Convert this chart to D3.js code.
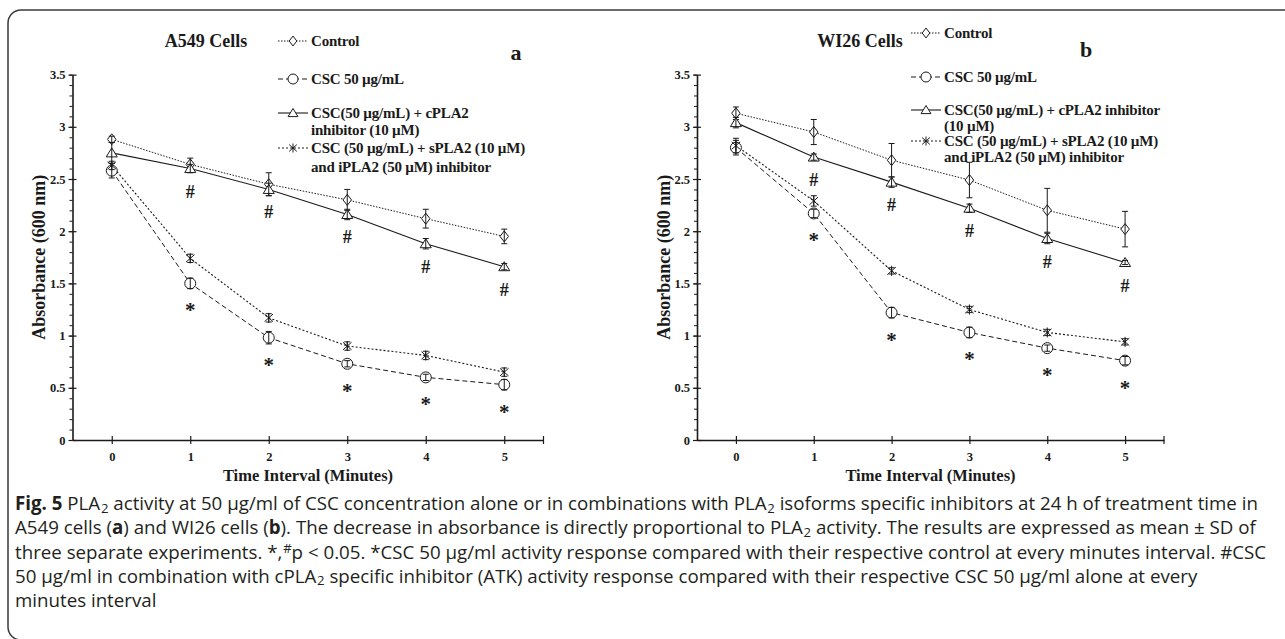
<!DOCTYPE html>
<html>
<head>
<meta charset="utf-8">
<script src="https://cdn.jsdelivr.net/npm/d3@7"></script>
<style>
  body { margin: 0; background: #fff; }
  svg { display: block; }
</style>
</head>
<body>
<svg id="figure" width="1285" height="639"></svg>
<script>
/* Data */

const timePoints = [0, 1, 2, 3, 4, 5];
const xTickLabels = ["0", "1", "2", "3", "4", "5"];
const yMajorTicks = [0, 0.5, 1, 1.5, 2, 2.5, 3, 3.5];
const yTickLabels = ["0", "0.5", "1", "1.5", "2", "2.5", "3", "3.5"];

// A549 cells (panel a): mean absorbance (600 nm) and SD per minute
const a549Control = [2.88, 2.64, 2.45, 2.30, 2.12, 1.95];
const a549ControlSd = [0.03, 0.06, 0.11, 0.10, 0.09, 0.07];
const a549Csc = [2.58, 1.50, 0.98, 0.73, 0.60, 0.53];
const a549CscSd = [0.07, 0.05, 0.06, 0.03, 0.03, 0.05];
const a549Cpla2 = [2.75, 2.60, 2.40, 2.16, 1.88, 1.66];
const a549Cpla2Sd = [0.10, 0.04, 0.06, 0.05, 0.05, 0.03];
const a549SiPla2 = [2.63, 1.74, 1.17, 0.90, 0.81, 0.65];
const a549SiPla2Sd = [0.04, 0.04, 0.04, 0.04, 0.04, 0.04];

// WI26 cells (panel b)
const wi26Control = [3.13, 2.95, 2.68, 2.49, 2.20, 2.02];
const wi26ControlSd = [0.06, 0.12, 0.16, 0.17, 0.21, 0.17];
const wi26Csc = [2.80, 2.17, 1.22, 1.03, 0.88, 0.76];
const wi26CscSd = [0.07, 0.04, 0.05, 0.05, 0.03, 0.04];
const wi26Cpla2 = [3.04, 2.71, 2.47, 2.22, 1.93, 1.70];
const wi26Cpla2Sd = [0.05, 0.03, 0.05, 0.04, 0.05, 0.02];
const wi26SiPla2 = [2.82, 2.29, 1.62, 1.25, 1.03, 0.94];
const wi26SiPla2Sd = [0.07, 0.05, 0.03, 0.03, 0.03, 0.03];

// Minutes marked significant: # under the cPLA2 series, * under CSC 50
const hashMinutes = [1, 2, 3, 4, 5];
const starMinutes = [1, 2, 3, 4, 5];

const a549Legend = [
  ["Control"],
  ["CSC 50 µg/mL"],
  ["CSC(50 µg/mL) + cPLA2", "inhibitor (10 µM)"],
  ["CSC (50 µg/mL) + sPLA2 (10 µM)", "and iPLA2 (50 µM) inhibitor"]
];
const wi26Legend = [
  ["Control"],
  ["CSC 50 µg/mL"],
  ["CSC(50 µg/mL) + cPLA2 inhibitor", "(10 µM)"],
  ["CSC (50 µg/mL) + sPLA2 (10 µM)", "and iPLA2 (50 µM) inhibitor"]
];

const captionLines = [
  [["Fig. 5", "b"], [" PLA"], ["2", "sub"], [" activity at 50 µg/ml of CSC concentration alone or in combinations with PLA"], ["2", "sub"], [" isoforms specific inhibitors at 24 h of treatment time in"]],
  [["A549 cells ("], ["a", "b"], [") and WI26 cells ("], ["b", "b"], ["). The decrease in absorbance is directly proportional to PLA"], ["2", "sub"], [" activity. The results are expressed as mean ± SD of"]],
  [["three separate experiments. *,"], ["#", "sup"], ["p < 0.05. *CSC 50 µg/ml activity response compared with their respective control at every minutes interval. #CSC"]],
  [["50 µg/ml in combination with cPLA"], ["2", "sub"], [" specific inhibitor (ATK) activity response compared with their respective CSC 50 µg/ml alone at every"]],
  [["minutes interval"]]
];

/* Styles and layout */

// control, CSC 50, CSC + cPLA2 inhibitor, CSC + sPLA2/iPLA2 inhibitor
const seriesStyles = [
  { marker: "diamond", dash: "1.5,1.5", width: 1 },
  { marker: "circle", dash: "5,3", width: 1 },
  { marker: "triangle", dash: null, width: 1.1 },
  { marker: "asterisk", dash: "2,2", width: 1.1 }
];

const panels = [
  {
    title: "A549 Cells",
    letter: "a",
    legend: a549Legend,
    means: [a549Control, a549Csc, a549Cpla2, a549SiPla2],
    sds: [a549ControlSd, a549CscSd, a549Cpla2Sd, a549SiPla2Sd],
    layout: {
      left: 72.5, right: 543.5, titleX: 206, legendX: 278,
      legendRows: [[41], [79], [113, 130], [148, 167]],
      letterX: 516, letterY: 60, yTitleX: 45
    }
  },
  {
    title: "WI26 Cells",
    letter: "b",
    legend: wi26Legend,
    means: [wi26Control, wi26Csc, wi26Cpla2, wi26SiPla2],
    sds: [wi26ControlSd, wi26CscSd, wi26Cpla2Sd, wi26SiPla2Sd],
    layout: {
      left: 697, right: 1164, titleX: 860, legendX: 911,
      legendRows: [[33], [77], [110, 126], [141, 157]],
      letterX: 1086, letterY: 57, yTitleX: 669.5
    }
  }
];

const plotTop = 74.6;
const plotBottom = 440;
const serif = "'Liberation Serif', 'Times New Roman', serif";
const ink = "#1a1a1a";

const svg = d3.select("#figure");

// Rounded frame around the whole figure (right side runs off the page)
svg.append("rect")
  .attr("x", 8).attr("y", 10)
  .attr("width", 1300).attr("height", 630)
  .attr("rx", 13)
  .attr("fill", "none")
  .attr("stroke", "#3a3a3a")
  .attr("stroke-width", 1.5);

panels.forEach(drawPanel);
drawCaption();

/**
 * Path for one of the hollow markers, centred on (0, 0).
 * @param {string} type diamond | circle | triangle | asterisk
 * @param {number} r Half size of the marker in pixels
 */
function markerPath(type, r) {
  const p = d3.path();
  if (type === "diamond") {
    p.moveTo(0, -r * 1.1);
    p.lineTo(r * 0.85, 0);
    p.lineTo(0, r * 1.1);
    p.lineTo(-r * 0.85, 0);
    p.closePath();
  } else if (type === "circle") {
    p.moveTo(r, 0);
    p.arc(0, 0, r, 0, 2 * Math.PI);
  } else if (type === "triangle") {
    p.moveTo(0, -r);
    p.lineTo(r * 1.1, r * 0.8);
    p.lineTo(-r * 1.1, r * 0.8);
    p.closePath();
  } else {
    // six armed asterisk: an X with a vertical stroke
    p.moveTo(-r * 0.85, -r * 0.75);
    p.lineTo(r * 0.85, r * 0.75);
    p.moveTo(r * 0.85, -r * 0.75);
    p.lineTo(-r * 0.85, r * 0.75);
    p.moveTo(0, -r);
    p.lineTo(0, r);
  }
  return p.toString();
}

/**
 * Bold serif text helper used by every label inside the panels.
 */
function serifText(sel, size) {
  return sel
    .attr("fill", ink)
    .style("font-family", serif)
    .style("font-weight", "bold")
    .style("font-size", `${size}px`);
}

/**
 * Draw one panel: axes, the four series with SD bars, marks and legend.
 * @param {object} panel One entry of `panels`
 */
function drawPanel(panel) {
  const L = panel.layout;
  const x = d3.scaleLinear().domain([-0.5, 5.5]).range([L.left, L.right]);
  const y = d3.scaleLinear().domain([0, 3.5]).range([plotBottom, plotTop]);
  const g = svg.append("g");

  // Y axis: minor ticks every 0.1, major ticks cross the axis line
  g.append("g")
    .attr("transform", `translate(${L.left},0)`)
    .call(d3.axisLeft(y).ticks(35).tickSize(3).tickFormat(""))
    .call(a => a.select(".domain").remove())
    .call(a => a.selectAll("line").attr("stroke", ink));

  const yAxis = g.append("g")
    .attr("transform", `translate(${L.left},0)`)
    .call(d3.axisLeft(y)
      .tickValues(yMajorTicks)
      .tickFormat((d, i) => yTickLabels[i])
      .tickSize(4).tickSizeOuter(0).tickPadding(3));
  yAxis.selectAll(".tick").append("line").attr("x2", 4);
  yAxis.selectAll("line").attr("stroke", ink).attr("stroke-width", 1.2);
  yAxis.select(".domain").attr("stroke", ink).attr("stroke-width", 1.6);
  serifText(yAxis.selectAll("text"), 12.5);

  // X axis, with a closing tick at the right end of the domain
  const xAxis = g.append("g")
    .attr("transform", `translate(0,${plotBottom})`)
    .call(d3.axisBottom(x)
      .tickValues(timePoints)
      .tickFormat((d, i) => xTickLabels[i])
      .tickSize(4).tickSizeOuter(0).tickPadding(8));
  xAxis.selectAll(".tick").append("line").attr("y2", -4);
  xAxis.append("line")
    .attr("x1", x(x.domain()[1])).attr("x2", x(x.domain()[1]))
    .attr("y1", -4).attr("y2", 4);
  xAxis.selectAll("line").attr("stroke", ink).attr("stroke-width", 1.2);
  xAxis.select(".domain").attr("stroke", ink).attr("stroke-width", 1.6);
  serifText(xAxis.selectAll("text"), 12.5);

  // Axis titles
  serifText(g.append("text"), 16.5)
    .attr("x", (L.left + L.right) / 2)
    .attr("y", 481)
    .attr("text-anchor", "middle")
    .text("Time Interval (Minutes)");

  serifText(g.append("text"), 18)
    .attr("transform", `translate(${L.yTitleX},${(plotTop + plotBottom) / 2}) rotate(-90)`)
    .attr("text-anchor", "middle")
    .text("Absorbance (600 nm)");

  // Series lines
  const line = d3.line().x((d, i) => x(timePoints[i])).y(d => y(d));
  panel.means.forEach((values, s) => {
    const st = seriesStyles[s];
    g.append("path")
      .datum(values)
      .attr("d", line)
      .attr("fill", "none")
      .attr("stroke", ink)
      .attr("stroke-width", st.width)
      .attr("stroke-dasharray", st.dash);
  });

  // Markers then SD bars on top, as in the original
  panel.means.forEach((values, s) => {
    const st = seriesStyles[s];
    const r = st.marker === "circle" ? 5.5 : 5;
    g.append("g").selectAll("path")
      .data(values)
      .join("path")
      .attr("transform", (d, i) => `translate(${x(timePoints[i])},${y(d)})`)
      .attr("d", markerPath(st.marker, r))
      .attr("fill", st.marker === "asterisk" ? "none" : "#fff")
      .attr("stroke", ink)
      .attr("stroke-width", 1);

    const bars = g.append("g")
      .selectAll("g")
      .data(values.map((m, i) => ({ t: timePoints[i], m, sd: panel.sds[s][i] })))
      .join("g")
      .attr("stroke", ink)
      .attr("stroke-width", 1);
    bars.append("line")
      .attr("x1", d => x(d.t)).attr("x2", d => x(d.t))
      .attr("y1", d => y(d.m - d.sd)).attr("y2", d => y(d.m + d.sd));
    bars.append("line")
      .attr("x1", d => x(d.t) - 3).attr("x2", d => x(d.t) + 3)
      .attr("y1", d => y(d.m + d.sd)).attr("y2", d => y(d.m + d.sd));
    bars.append("line")
      .attr("x1", d => x(d.t) - 3).attr("x2", d => x(d.t) + 3)
      .attr("y1", d => y(d.m - d.sd)).attr("y2", d => y(d.m - d.sd));
  });

  // Significance marks below the cPLA2 (#) and CSC 50 (*) points
  serifText(g.append("g").selectAll("text").data(hashMinutes).join("text"), 18)
    .attr("x", t => x(t))
    .attr("y", t => y(panel.means[2][timePoints.indexOf(t)]) + 29)
    .attr("text-anchor", "middle")
    .text("#");

  serifText(g.append("g").selectAll("text").data(starMinutes).join("text"), 21)
    .attr("x", t => x(t))
    .attr("y", t => y(panel.means[1][timePoints.indexOf(t)]) + 34)
    .attr("text-anchor", "middle")
    .text("*");

  // Panel title and letter
  serifText(g.append("text"), 18)
    .attr("x", L.titleX).attr("y", 47)
    .attr("text-anchor", "middle")
    .text(panel.title);

  serifText(g.append("text"), 22)
    .attr("x", L.letterX).attr("y", L.letterY)
    .attr("text-anchor", "middle")
    .text(panel.letter);

  // Legend
  panel.legend.forEach((lines, s) => {
    const st = seriesStyles[s];
    const rows = L.legendRows[s];
    const cy = rows[0];
    g.append("line")
      .attr("x1", L.legendX).attr("x2", L.legendX + 30)
      .attr("y1", cy).attr("y2", cy)
      .attr("stroke", ink)
      .attr("stroke-width", st.width)
      .attr("stroke-dasharray", st.dash);
    g.append("path")
      .attr("transform", `translate(${L.legendX + 15},${cy})`)
      .attr("d", markerPath(st.marker, st.marker === "circle" ? 5 : 4.5))
      .attr("fill", st.marker === "asterisk" ? "none" : "#fff")
      .attr("stroke", ink)
      .attr("stroke-width", 1);
    lines.forEach((txt, k) => {
      serifText(g.append("text"), 15)
        .attr("x", L.legendX + 33)
        .attr("y", rows[k] + 5)
        .style("letter-spacing", "-0.2px")
        .text(txt);
    });
  });
}

/**
 * Figure caption in a sans face, sized so the first line spans
 * the same width as in the original.
 */
function drawCaption() {
  const cap = svg.append("g")
    .attr("fill", "#231f20")
    .style("font-family", "'Open Sans', 'Noto Sans', sans-serif")
    .style("font-size", "16px");

  const texts = captionLines.map((parts, i) => {
    const t = cap.append("text").attr("x", 15).attr("y", 510 + i * 24.3);
    let shift = 0;
    parts.forEach(([str, kind]) => {
      const sp = t.append("tspan").text(str);
      const target = kind === "sub" ? 2.5 : kind === "sup" ? -6 : 0;
      if (kind === "b") sp.style("font-weight", "bold");
      if (kind === "sub" || kind === "sup") sp.style("font-size", "70%").attr("dx", 0.8);
      if (target !== shift) sp.attr("dy", target - shift);
      shift = target;
    });
    return t;
  });

  const width = texts[0].node().getComputedTextLength();
  cap.style("font-size", `${16 * 1242 / width}px`);
}
</script>
</body>
</html>
